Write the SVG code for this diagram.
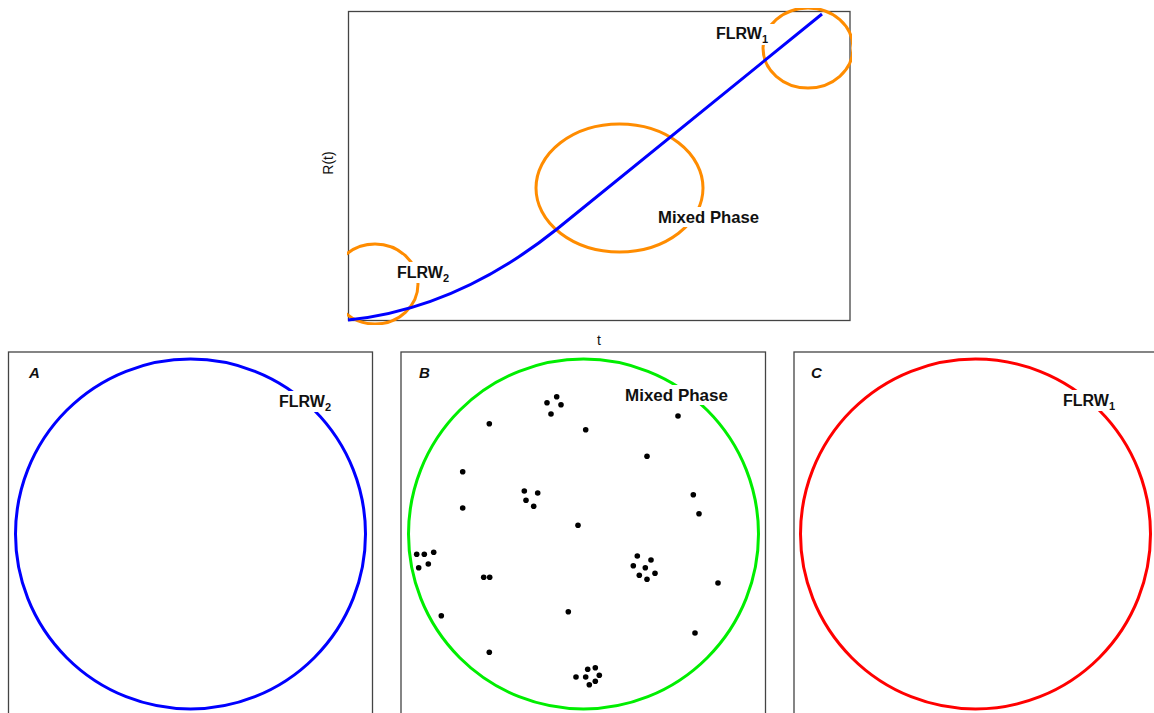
<svg xmlns="http://www.w3.org/2000/svg" width="1154" height="713" viewBox="0 0 1154 713">
<style>
.frame{fill:none;stroke:#444;stroke-width:1.3}
.lbl{font-family:"Liberation Sans",Arial,sans-serif;font-weight:bold;fill:#111}
.ax{font-family:"Liberation Sans",Arial,sans-serif;font-size:14px;fill:#111}
.orange{fill:none;stroke:#ff8c00;stroke-width:3}
.dot{fill:#000}
.bg{fill:#fff}
</style>
<defs>
<clipPath id="plotclip"><rect x="347" y="8" width="505" height="317"/></clipPath>
</defs>
<rect width="1154" height="713" fill="#fff"/>

<g id="top-plot">
<rect class="frame" x="348.5" y="11.5" width="501.5" height="309"/>
<g clip-path="url(#plotclip)">
<ellipse class="orange" cx="375" cy="284" rx="43" ry="40"/>
<ellipse class="orange" cx="619.5" cy="188" rx="83.5" ry="64"/>
<ellipse class="orange" cx="808" cy="48" rx="45" ry="40"/>
</g>
<path d="M348,320 Q457,309 557,229 L822,14" fill="none" stroke="#0000ff" stroke-width="3"/>
<text class="ax" transform="translate(333,163) rotate(-90)" text-anchor="middle">R(t)</text>
<text class="ax" x="599" y="345" text-anchor="middle">t</text>
</g>

<g id="label-top-flrw1">
<rect class="bg" x="713" y="24" width="62" height="21"/>
<text class="lbl" x="716" y="39" font-size="16">FLRW<tspan font-size="11" dy="4">1</tspan></text>
</g>
<g id="label-top-mixed">
<rect class="bg" x="655" y="207" width="108" height="20"/>
<text class="lbl" x="658" y="223" font-size="16.7">Mixed Phase</text>
</g>
<g id="label-top-flrw2">
<rect class="bg" x="394" y="262" width="62" height="21"/>
<text class="lbl" x="397" y="278" font-size="16">FLRW<tspan font-size="11" dy="4">2</tspan></text>
</g>

<g id="panel-A">
<rect class="frame" x="8.5" y="352" width="364" height="380"/>
<circle cx="190.5" cy="534" r="175" fill="none" stroke="#0000ff" stroke-width="3"/>
<text class="lbl" x="29" y="378" font-size="15" font-style="italic">A</text>
<rect class="bg" x="276" y="391" width="62" height="21"/>
<text class="lbl" x="279" y="407" font-size="16">FLRW<tspan font-size="11" dy="4">2</tspan></text>
</g>

<g id="panel-B">
<rect class="frame" x="401" y="352" width="364.5" height="380"/>
<circle cx="583.5" cy="534" r="175" fill="none" stroke="#00ee00" stroke-width="3"/>
<text class="lbl" x="419" y="378" font-size="15" font-style="italic">B</text>
<rect class="bg" x="622" y="385" width="111" height="20"/>
<text class="lbl" x="625" y="401" font-size="17">Mixed Phase</text>
<g id="particles">
<circle class="dot" cx="556.7" cy="396.7" r="2.8"/>
<circle class="dot" cx="547" cy="402.7" r="2.8"/>
<circle class="dot" cx="561" cy="404.7" r="2.8"/>
<circle class="dot" cx="551" cy="414" r="2.8"/>
<circle class="dot" cx="489.3" cy="423.7" r="2.8"/>
<circle class="dot" cx="585.7" cy="429.7" r="2.8"/>
<circle class="dot" cx="678" cy="416" r="2.8"/>
<circle class="dot" cx="647" cy="456.3" r="2.8"/>
<circle class="dot" cx="462.7" cy="471.7" r="2.8"/>
<circle class="dot" cx="462.7" cy="508" r="2.8"/>
<circle class="dot" cx="524.3" cy="491" r="2.8"/>
<circle class="dot" cx="537.7" cy="493" r="2.8"/>
<circle class="dot" cx="526" cy="500.3" r="2.8"/>
<circle class="dot" cx="533.7" cy="506.3" r="2.8"/>
<circle class="dot" cx="578" cy="525.3" r="2.8"/>
<circle class="dot" cx="693.3" cy="494.7" r="2.8"/>
<circle class="dot" cx="699" cy="513.7" r="2.8"/>
<circle class="dot" cx="416.7" cy="554.3" r="2.8"/>
<circle class="dot" cx="424.3" cy="554.3" r="2.8"/>
<circle class="dot" cx="433.7" cy="552.3" r="2.8"/>
<circle class="dot" cx="418.7" cy="567.7" r="2.8"/>
<circle class="dot" cx="428.3" cy="564" r="2.8"/>
<circle class="dot" cx="483.7" cy="577.3" r="2.8"/>
<circle class="dot" cx="489.7" cy="577.3" r="2.8"/>
<circle class="dot" cx="441.3" cy="615.7" r="2.8"/>
<circle class="dot" cx="489.3" cy="652.3" r="2.8"/>
<circle class="dot" cx="568.3" cy="611.7" r="2.8"/>
<circle class="dot" cx="637.3" cy="556" r="2.8"/>
<circle class="dot" cx="651" cy="560" r="2.8"/>
<circle class="dot" cx="633.3" cy="565.7" r="2.8"/>
<circle class="dot" cx="645.3" cy="567.7" r="2.8"/>
<circle class="dot" cx="655" cy="573.3" r="2.8"/>
<circle class="dot" cx="639.3" cy="575.3" r="2.8"/>
<circle class="dot" cx="647" cy="579.3" r="2.8"/>
<circle class="dot" cx="718" cy="583" r="2.8"/>
<circle class="dot" cx="695" cy="633" r="2.8"/>
<circle class="dot" cx="595.3" cy="667.7" r="2.8"/>
<circle class="dot" cx="587.7" cy="669.3" r="2.8"/>
<circle class="dot" cx="576" cy="677" r="2.8"/>
<circle class="dot" cx="585.7" cy="677" r="2.8"/>
<circle class="dot" cx="599.3" cy="675.3" r="2.8"/>
<circle class="dot" cx="595.3" cy="681.3" r="2.8"/>
<circle class="dot" cx="589.3" cy="684.7" r="2.8"/>
</g>
</g>

<g id="panel-C">
<rect class="frame" x="794" y="352" width="380" height="380"/>
<circle cx="975.5" cy="534" r="175" fill="none" stroke="#ff0000" stroke-width="3"/>
<text class="lbl" x="811" y="378" font-size="15" font-style="italic">C</text>
<rect class="bg" x="1060" y="390" width="62" height="21"/>
<text class="lbl" x="1063" y="406" font-size="16">FLRW<tspan font-size="11" dy="4">1</tspan></text>
</g>

<g id="connectors"></g>
</svg>
